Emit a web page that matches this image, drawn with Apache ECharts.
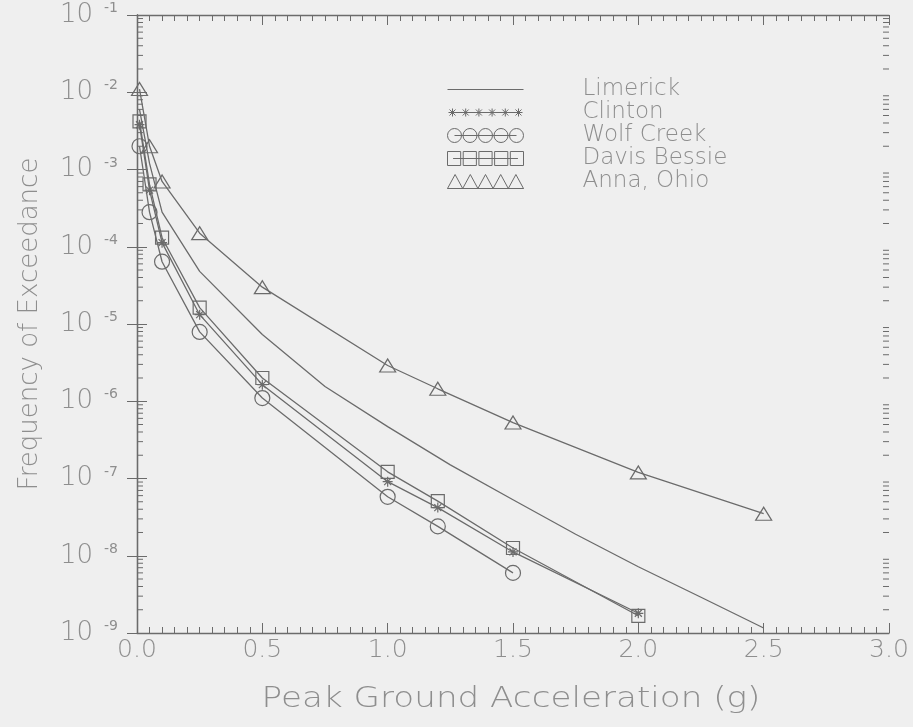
<!DOCTYPE html>
<html>
<head>
<meta charset="utf-8">
<script src="https://cdn.jsdelivr.net/npm/echarts@6/dist/echarts.min.js"></script>
<style>
  html, body { margin: 0; padding: 0; background: #efefef; }
  #chart { width: 913px; height: 727px; }
</style>
</head>
<body>
<div id="chart"></div>
<script>
// Seismic hazard curves: annual frequency of exceedance vs. peak ground acceleration
const pga = [0.01, 0.05, 0.1, 0.25, 0.5, 1.0, 1.2, 1.5, 2.0, 2.5];
const limerickPga = [0.01, 0.05, 0.1, 0.25, 0.5, 0.75, 1.0, 1.25, 1.5, 1.75, 2.0, 2.25, 2.5];
const limerick = [6.0e-3, 1.2e-3, 2.8e-4, 4.8e-5, 7.3e-6, 1.55e-6, 4.7e-7, 1.5e-7, 5.3e-8, 1.9e-8, 7.2e-9, 2.9e-9, 1.16e-9];
const clinton = [3.8e-3, 5.4e-4, 1.13e-4, 1.32e-5, 1.64e-6, 9.1e-8, 4.2e-8, 1.12e-8, 1.8e-9];
const wolfCreek = [2.0e-3, 2.8e-4, 6.4e-5, 7.9e-6, 1.1e-6, 5.8e-8, 2.4e-8, 6.0e-9];
const davisBessie = [4.2e-3, 6.4e-4, 1.31e-4, 1.63e-5, 2.0e-6, 1.22e-7, 5.1e-8, 1.26e-8, 1.67e-9];
const annaOhio = [1.1e-2, 2.0e-3, 7.0e-4, 1.5e-4, 3.0e-5, 2.9e-6, 1.45e-6, 5.3e-7, 1.2e-7, 3.5e-8];
const seriesNames = ['Limerick', 'Clinton', 'Wolf Creek', 'Davis Bessie', 'Anna, Ohio'];
const xTicks = ['0.0', '0.5', '1.0', '1.5', '2.0', '2.5', '3.0'];
const xTitle = 'Peak Ground Acceleration (g)';
const yTitle = 'Frequency of Exceedance';

const INK = '#6b6b6b';
const TEXT = '#8e8e8e';
const FONT = '"DejaVu Sans", sans-serif';

function pairs(xs, ys) { return ys.map((v, i) => [xs[i], v]); }

// minor ticks of the log axis: 2..9 within each decade
const minorVals = [];
for (let d = -9; d <= -2; d++) for (let k = 2; k <= 9; k++) minorVals.push(k * Math.pow(10, d));

// legend icon paths, each drawn in a 76 x 14 box
function circlesPath() {
  let p = 'M7,7L69,7';
  for (let i = 0; i < 5; i++) { const c = 7 + i * 15.5; p += `M${c - 7},7A7,7 0 1,0 ${c + 7},7A7,7 0 1,0 ${c - 7},7`; }
  return 'path://' + p;
}
function squaresPath() {
  let p = 'M6,7L70,7';
  for (let i = 0; i < 5; i++) { const x = 0.5 + i * 15.5; p += `M${x},0.5L${x + 13},0.5L${x + 13},13.5L${x},13.5Z`; }
  return 'path://' + p;
}
function trianglesPath() {
  let p = 'M0,13L76,13';
  for (let i = 0; i < 5; i++) { const x = i * 15.2; p += `M${x},13L${x + 7.6},1L${x + 15.2},13Z`; }
  return 'path://' + p;
}
function starsPath() {
  let p = 'M0,0L0,0M76,14L76,14M4,7L72,7';
  for (let i = 0; i < 6; i++) {
    const c = 5 + i * 13.2;
    p += `M${c - 4},7L${c + 4},7M${c},3L${c},11M${c - 3},4L${c + 3},10M${c - 3},10L${c + 3},4`;
  }
  return 'path://' + p;
}
const linePath = 'path://M0,0L0,0M76,14L76,14M0,7L76,7';
const asterisk = 'path://M-5,0L5,0M0,-5L0,5M-3.5,-3.5L3.5,3.5M-3.5,3.5L3.5,-3.5';

const chart = echarts.init(document.getElementById('chart'), null, { renderer: 'canvas' });

const markerStyle = { color: 'rgba(0,0,0,0)', borderColor: INK, borderWidth: 1.2 };
const lineStyle = { color: INK, width: 1.3 };

const legendIcons = [linePath, starsPath(), circlesPath(), squaresPath(), trianglesPath()];

chart.setOption({
  backgroundColor: '#efefef',
  animation: false,
  textStyle: { fontFamily: FONT },
  grid: { left: 137, right: 24, top: 15, bottom: 94 },
  graphic: [
    {
      // wide-set x-axis title
      type: 'text', x: 511, y: 700, scaleX: 1.22, silent: true,
      style: { text: xTitle, fill: TEXT, font: '300 28px "DejaVu Sans", sans-serif', align: 'center', verticalAlign: 'middle' }
    }
  ],
  legend: {
    orient: 'vertical',
    left: 442,
    top: 73,
    itemWidth: 76,
    itemHeight: 14,
    itemGap: 0,
    symbolKeepAspect: false,
    selectedMode: false,
    textStyle: { fontFamily: FONT, fontSize: 23, color: TEXT, lineHeight: 23, padding: [0, 0, 0, 54], fontWeight: 300 },
    data: seriesNames.map((n, i) => ({
      name: n,
      icon: legendIcons[i],
      itemStyle: { color: 'rgba(0,0,0,0)', borderColor: INK, borderWidth: 1 }
    }))
  },
  xAxis: [
    {
      type: 'value', min: 0, max: 3, interval: 0.5, position: 'bottom',
      axisLine: { lineStyle: { color: INK, width: 1.3 } },
      axisTick: { inside: true, length: 10, lineStyle: { color: INK } },
      minorTick: { show: true, splitNumber: 10, length: 6, lineStyle: { color: INK } },
      splitLine: { show: false },
      axisLabel: { margin: 5, fontSize: 25, color: TEXT, fontFamily: FONT, fontWeight: 300,
        formatter: v => xTicks[Math.round(v * 2)] }
    },
    {
      type: 'value', min: 0, max: 3, interval: 0.5, position: 'top',
      axisLine: { lineStyle: { color: INK, width: 1.3 } },
      axisTick: { inside: true, length: 10, lineStyle: { color: INK } },
      minorTick: { show: true, splitNumber: 10, length: 6, lineStyle: { color: INK } },
      splitLine: { show: false },
      axisLabel: { show: false }
    }
  ],
  yAxis: [
    {
      type: 'log', logBase: 10, min: 1e-9, max: 1e-1, position: 'left',
      name: yTitle, nameLocation: 'middle', nameGap: 94,
      nameTextStyle: { fontSize: 26, color: TEXT, fontFamily: FONT, fontWeight: 300 },
      axisLine: { lineStyle: { color: INK, width: 1.3 } },
      axisTick: { inside: true, length: 10, lineStyle: { color: INK } },
      splitLine: { show: false },
      axisLabel: {
        margin: 19, color: TEXT,
        formatter: v => '{b|10}{g| }{e|' + Math.round(Math.log10(v)) + '}',
        rich: {
          b: { fontSize: 26, fontFamily: FONT, color: TEXT, fontWeight: 300, lineHeight: 27 },
          g: { fontSize: 10, width: 11 },
          e: { fontSize: 14, fontFamily: FONT, color: TEXT, verticalAlign: 'top', lineHeight: 14, padding: [0, 0, 12, 0] }
        }
      }
    },
    {
      type: 'log', logBase: 10, min: 1e-9, max: 1e-1, position: 'right',
      axisLine: { lineStyle: { color: INK, width: 1.3 } },
      axisTick: { inside: true, length: 10, lineStyle: { color: INK } },
      splitLine: { show: false },
      axisLabel: { show: false }
    }
  ],
  series: [
    {
      name: 'Limerick', type: 'line', data: pairs(limerickPga, limerick),
      showSymbol: false, symbol: 'none', lineStyle: lineStyle, itemStyle: markerStyle, z: 3
    },
    {
      name: 'Clinton', type: 'line', data: pairs(pga, clinton),
      symbol: asterisk, symbolSize: 10, lineStyle: lineStyle, itemStyle: markerStyle, z: 3
    },
    {
      name: 'Wolf Creek', type: 'line', data: pairs(pga, wolfCreek),
      symbol: 'circle', symbolSize: 15, lineStyle: lineStyle, itemStyle: markerStyle, z: 3
    },
    {
      name: 'Davis Bessie', type: 'line', data: pairs(pga, davisBessie),
      symbol: 'rect', symbolSize: 13, lineStyle: lineStyle, itemStyle: markerStyle, z: 3
    },
    {
      name: 'Anna, Ohio', type: 'line', data: pairs(pga, annaOhio),
      symbol: 'triangle', symbolSize: [16, 13], lineStyle: lineStyle, itemStyle: markerStyle, z: 3
    },
    {
      // log-spaced minor ticks along both vertical edges of the frame
      name: 'minorTicks', type: 'custom', silent: true, z: 2,
      data: minorVals.map(v => [0, v]),
      renderItem: (params, api) => {
        const v = api.value(1);
        const l = api.coord([0, v]);
        const r = api.coord([3, v]);
        return {
          type: 'group',
          children: [
            { type: 'line', shape: { x1: l[0], y1: l[1], x2: l[0] + 6, y2: l[1] }, style: { stroke: INK, lineWidth: 1 } },
            { type: 'line', shape: { x1: r[0], y1: r[1], x2: r[0] - 6, y2: r[1] }, style: { stroke: INK, lineWidth: 1 } }
          ]
        };
      }
    }
  ]
});
</script>
</body>
</html>
